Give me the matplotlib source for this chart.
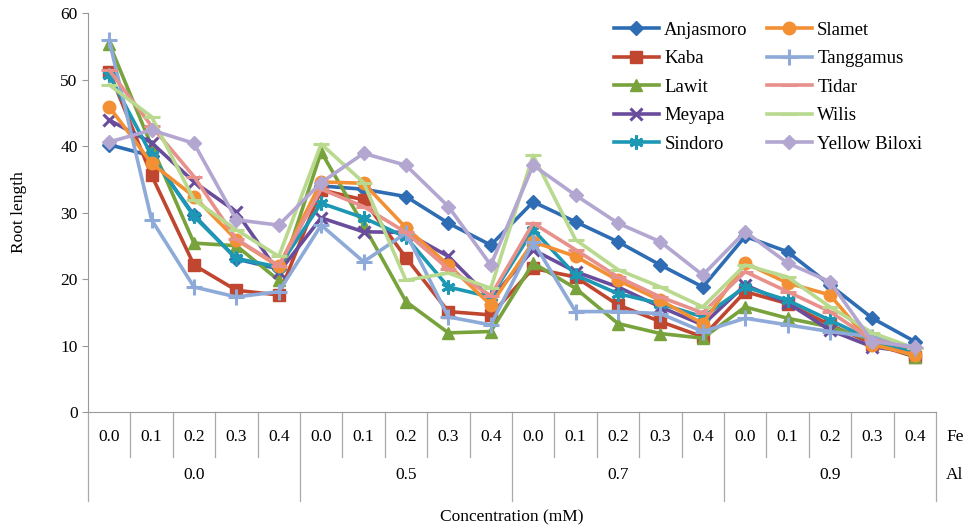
import numpy as np
import matplotlib.pyplot as plt
import matplotlib.transforms as mtransforms

plt.rcParams['font.family'] = ['Liberation Serif', 'DejaVu Serif']

# -----------------------------
# Data
# -----------------------------
fe_levels = ['0.0', '0.1', '0.2', '0.3', '0.4']
al_levels = ['0.0', '0.5', '0.7', '0.9']

anjasmoro = [40.2, 38.5, 29.6, 23.0, 21.5, 34.0, 33.5, 32.4, 28.4, 25.1,
             31.6, 28.6, 25.6, 22.1, 18.8, 26.4, 24.1, 19.1, 14.1, 10.6]
kaba = [51.2, 35.6, 22.1, 18.3, 17.6, 33.4, 31.9, 23.2, 15.1, 14.6,
        21.6, 20.3, 16.1, 13.6, 11.3, 18.1, 16.3, 13.1, 10.3, 8.3]
lawit = [55.4, 40.0, 25.4, 25.0, 19.8, 39.1, 28.1, 16.6, 11.9, 12.1,
         22.4, 18.6, 13.3, 11.8, 11.1, 15.8, 14.1, 12.8, 10.8, 8.3]
meyapa = [43.9, 40.5, 34.6, 30.1, 21.0, 29.2, 27.1, 27.0, 23.4, 17.0,
          24.4, 21.1, 18.8, 15.8, 13.1, 19.1, 16.4, 12.3, 9.8, 8.9]
sindoro = [50.7, 38.6, 29.4, 23.1, 21.8, 31.4, 29.2, 26.3, 18.8, 17.3,
           27.4, 20.6, 17.8, 16.3, 14.3, 18.8, 16.8, 13.8, 10.8, 9.1]
slamet = [45.9, 37.4, 32.4, 25.9, 21.9, 34.6, 34.4, 27.7, 22.1, 16.1,
          25.6, 23.4, 19.8, 16.8, 13.3, 22.4, 19.4, 17.6, 10.1, 8.6]
tanggamus = [55.9, 28.9, 18.8, 17.3, 18.1, 28.1, 22.6, 26.9, 14.3, 13.1,
             25.6, 15.1, 15.1, 14.8, 12.1, 14.1, 13.1, 12.1, 11.3, 9.6]
tidar = [51.4, 43.0, 35.4, 26.0, 22.0, 33.5, 30.9, 27.0, 21.5, 17.5,
         28.4, 24.4, 20.3, 17.3, 14.9, 21.1, 18.1, 15.1, 10.8, 9.6]
wilis = [49.2, 44.4, 31.9, 27.4, 23.4, 40.3, 34.5, 19.8, 20.9, 18.6,
         38.6, 25.9, 21.4, 18.8, 15.8, 22.1, 20.3, 15.8, 11.9, 9.6]
yellow_biloxi = [40.6, 42.4, 40.4, 28.9, 28.1, 34.5, 38.9, 37.1, 30.9, 22.1,
                 37.1, 32.6, 28.4, 25.6, 20.6, 27.1, 22.4, 19.6, 10.6, 9.8]

series = [
    ('Anjasmoro', anjasmoro, '#2e6db4', 'D', 7),
    ('Kaba', kaba, '#c0462f', 's', 8),
    ('Lawit', lawit, '#78a33c', '^', 8),
    ('Meyapa', meyapa, '#6a4c9c', 'x', 8),
    ('Sindoro', sindoro, '#1d98b4', (6, 2, 0), 10),
    ('Slamet', slamet, '#f39034', 'o', 9),
    ('Tanggamus', tanggamus, '#8daad8', '+', 11),
    ('Tidar', tidar, '#e8918c', '_', 11),
    ('Wilis', wilis, '#b8d98e', '_', 11),
    ('Yellow Biloxi', yellow_biloxi, '#b3a6d1', 'D', 7),
]

# -----------------------------
# Plot
# -----------------------------
fig = plt.figure(figsize=(9.68, 5.31), dpi=100)
ax = fig.add_axes([0.0909, 0.2241, 0.876, 0.7514])

x = np.arange(len(anjasmoro))
for name, vals, color, marker, ms in series:
    ax.plot(x, vals, color=color, lw=2.6, marker=marker, ms=ms,
            mew=2.2 if marker in ('x', '+', '_', (6, 2, 0)) else 1,
            label=name)

ax.set_xlim(-0.5, len(x) - 0.5)
ax.set_ylim(0, 60)
ax.set_yticks(np.arange(0, 61, 10))
ax.tick_params(axis='y', labelsize=12.5, length=4, color='#999999')
ax.set_xticks([])
for s in ('top', 'right'):
    ax.spines[s].set_visible(False)
for s in ('left', 'bottom'):
    ax.spines[s].set_color('#999999')
ax.set_ylabel('Root length', fontsize=12.5, labelpad=24)

# multi-level category axis
trans = mtransforms.blended_transform_factory(ax.transData, ax.transAxes)
n_fe = len(fe_levels)
for i in range(len(x) + 1):
    b = i - 0.5
    bottom = -0.222 if i % n_fe == 0 else -0.112
    ax.plot([b, b], [0, bottom], transform=trans, color='#aaaaaa', lw=0.9,
            clip_on=False)
for i in range(len(x)):
    ax.text(i, -0.063, fe_levels[i % n_fe], transform=trans, ha='center',
            va='center', fontsize=12.5)
for j, al in enumerate(al_levels):
    ax.text(j * n_fe + (n_fe - 1) / 2, -0.158, al, transform=trans,
            ha='center', va='center', fontsize=12.5)
ax.text(1.012, -0.063, 'Fe', transform=ax.transAxes, ha='left', va='center',
        fontsize=12.5)
ax.text(1.012, -0.158, 'Al', transform=ax.transAxes, ha='left', va='center',
        fontsize=12.5)
ax.text(0.5, -0.263, 'Concentration (mM)', transform=ax.transAxes,
        ha='center', va='center', fontsize=12.5)

ax.legend(ncol=2, loc='upper left', bbox_to_anchor=(0.6, 1.02), frameon=False,
          fontsize=13.5, handlelength=2.4, labelspacing=0.6, columnspacing=1.0,
          handletextpad=0.3)

fig.savefig('out.png', dpi=100)
